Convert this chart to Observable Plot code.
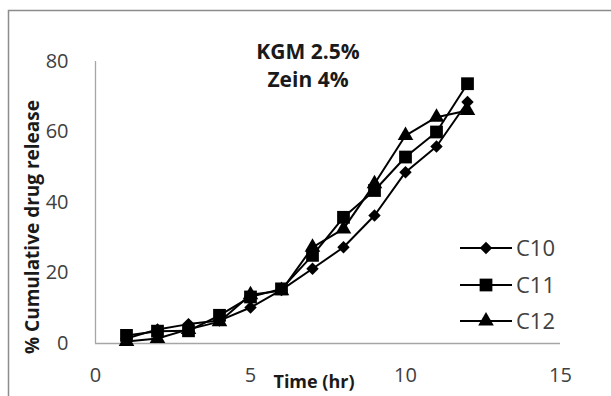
<!DOCTYPE html>
<html>
<head>
<meta charset="utf-8">
<script src="https://cdn.jsdelivr.net/npm/d3@7"></script>
<script src="https://cdn.jsdelivr.net/npm/@observablehq/plot@0.6"></script>
<style>
  html, body { margin: 0; padding: 0; background: #fff; }
  #chart { width: 611px; height: 396px; }
</style>
</head>
<body>
<div id="chart"></div>
<script>
const time = [1, 2, 3, 4, 5, 6, 7, 8, 9, 10, 11, 12];
const C10 = [1.4, 4.0, 5.5, 6.5, 10.2, 15.2, 21.2, 27.3, 36.3, 48.6, 55.9, 68.5];
const C11 = [2.3, 3.5, 3.6, 8.0, 13.2, 15.5, 25.0, 35.8, 43.4, 52.9, 60.0, 73.7];
const C12 = [0.6, 1.4, 4.0, 6.2, 13.8, 15.0, 27.3, 32.5, 45.3, 59.0, 64.2, 66.1];
const seriesNames = ["C10", "C11", "C12"];
const xTicks = [0, 5, 10, 15];
const yTicks = [0, 20, 40, 60, 80];
const titleLines = ["KGM 2.5%", "Zein 4%"];
const xLabel = "Time (hr)";
const yLabel = "% Cumulative drug release";

const seriesValues = [C10, C11, C12];
const symbols = ["diamond2", "square", "triangle"];
const radii = [5.6, 7.2, 5.8];
const rows = seriesValues.map(vals => time.map((t, i) => ({t, v: vals[i]})));

const axisGray = "#a6a6a6";
const textGray = "#404040";
const font = "'Open Sans', sans-serif";

const marks = [
  Plot.ruleY([0], {x1: 0, x2: 15, stroke: axisGray, strokeWidth: 1.3}),
  Plot.ruleX([0], {y1: 0, y2: 80, stroke: axisGray, strokeWidth: 1.3}),
  Plot.axisY(yTicks, {tickSize: 0, tickPadding: 27, fontSize: 20, fill: textGray, label: null}),
  Plot.axisX(xTicks, {tickSize: 0, tickPadding: 24, fontSize: 20, fill: textGray, label: null}),
];
rows.forEach((r, k) => {
  marks.push(Plot.line(r, {x: "t", y: "v", stroke: "#000", strokeWidth: 2}));
});
rows.forEach((r, k) => {
  marks.push(Plot.dot(r, {x: "t", y: "v", symbol: symbols[k], r: radii[k], fill: "#000", stroke: "none"}));
});
marks.push(
  Plot.text([titleLines[0]], {frameAnchor: "top", dx: -20, dy: -17, fontSize: 21, fontWeight: "bold", fill: "#1a1a1a"}),
  Plot.text([titleLines[1]], {frameAnchor: "top", dx: -20, dy: 11, fontSize: 21, fontWeight: "bold", fill: "#1a1a1a"}),
  Plot.text([xLabel], {frameAnchor: "bottom", dx: -14, dy: 44, fontSize: 18, fontWeight: "bold", fill: "#1a1a1a"})
);

const chart = Plot.plot({
  width: 611,
  height: 396,
  marginLeft: 95,
  marginRight: 51,
  marginTop: 61,
  marginBottom: 53,
  style: {fontFamily: font, background: "#fff", overflow: "visible"},
  x: {domain: [0, 15], axis: null},
  y: {domain: [0, 80], axis: null},
  marks
});
document.getElementById("chart").appendChild(chart);

const svg = d3.select(chart);
// outer frame (top and left edges visible)
svg.append("path")
  .attr("d", "M611,10.5H8.5V396")
  .attr("fill", "none")
  .attr("stroke", "#8c8c8c")
  .attr("stroke-width", 1.5);

// y-axis title
svg.append("text")
  .attr("transform", "translate(32,227) rotate(-90)")
  .attr("dy", "0.35em")
  .attr("text-anchor", "middle")
  .attr("font-family", font)
  .attr("font-weight", "bold")
  .attr("font-size", 19)
  .attr("fill", "#1a1a1a")
  .text(yLabel);

// legend
const lg = svg.append("g").attr("font-family", font);
const legendY = [248, 285, 321];
seriesNames.forEach((name, k) => {
  const y = legendY[k];
  lg.append("line").attr("x1", 460).attr("x2", 512).attr("y1", y).attr("y2", y)
    .attr("stroke", "#000").attr("stroke-width", 2);
  const sym = {diamond2: d3.symbolDiamond2, square: d3.symbolSquare, triangle: d3.symbolTriangle}[symbols[k]];
  lg.append("path")
    .attr("d", d3.symbol(sym, radii[k] * radii[k] * Math.PI)())
    .attr("transform", `translate(486,${y})`)
    .attr("fill", "#000");
  lg.append("text").attr("x", 516).attr("y", y).attr("dy", "0.35em")
    .attr("text-anchor", "start")
    .attr("font-size", 22).attr("fill", textGray).text(name);
});
</script>
</body>
</html>
